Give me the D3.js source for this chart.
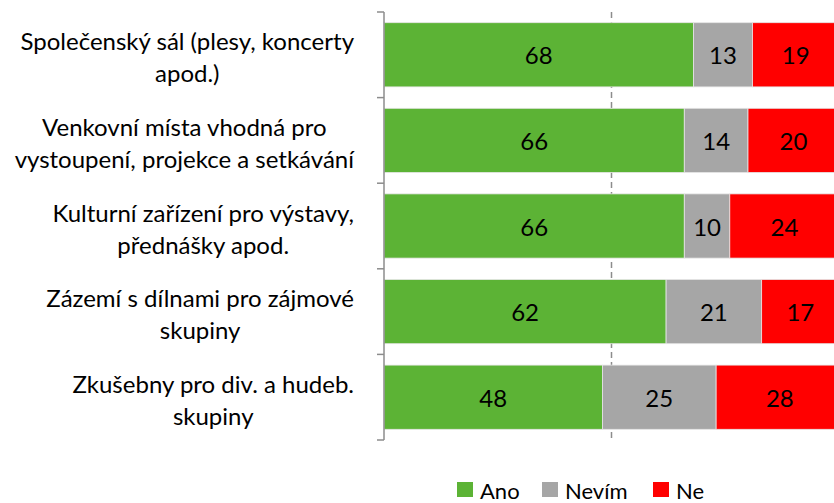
<!DOCTYPE html>
<html>
<head>
<meta charset="utf-8">
<script src="https://cdn.jsdelivr.net/npm/d3@7"></script>
<style>
  body { margin: 0; background: #fff; }
  svg text { font-family: Lato, "Open Sans", sans-serif; fill: #000; }
</style>
</head>
<body>
<div id="chart"></div>
<script>
const categoryLines = [
  ['Společenský sál (plesy, koncerty', 'apod.)'],
  ['Venkovní místa vhodná pro', 'vystoupení, projekce a setkávání'],
  ['Kulturní zařízení pro výstavy,', 'přednášky apod.'],
  ['Zázemí s dílnami pro zájmové', 'skupiny'],
  ['Zkušebny pro div. a hudeb.', 'skupiny'],
];
const categories = categoryLines.map((l) => l.join(' '));
const seriesNames = ['Ano', 'Nevím', 'Ne'];
const anoValues = [68, 66, 66, 62, 48];
const nevimValues = [13, 14, 10, 21, 25];
const neValues = [19, 20, 24, 17, 28];
const colors = ['#5cb335', '#a6a6a6', '#ff0000'];

function draw() {
  const width = 834;
  const height = 503;
  const svg = d3
    .select('#chart')
    .append('svg')
    .attr('width', width)
    .attr('height', height);

  const rows = categories.map((c, i) => ({
    category: c,
    Ano: anoValues[i],
    Nevím: nevimValues[i],
    Ne: neValues[i],
  }));

  const stacked = d3.stack().keys(seriesNames)(rows);

  const xScale = d3.scaleLinear().domain([0, 100]).range([384, 839]);
  const yScale = d3
    .scaleBand()
    .domain(categories)
    .range([12, 440])
    .paddingInner(0.25)
    .paddingOuter(0.125);
  const colorScale = d3.scaleOrdinal().domain(seriesNames).range(colors);

  // dashed 50% gridline, behind the bars
  svg
    .append('line')
    .attr('x1', xScale(50))
    .attr('x2', xScale(50))
    .attr('y1', 12)
    .attr('y2', 440)
    .attr('stroke', '#8c8c8c')
    .attr('stroke-width', 1.5)
    .attr('stroke-dasharray', '6,4');

  const groups = svg
    .selectAll('g.series')
    .data(stacked)
    .join('g')
    .attr('class', 'series')
    .attr('fill', (d) => colorScale(d.key));

  groups
    .selectAll('rect')
    .data((d) => d)
    .join('rect')
    .attr('x', (d) => xScale(d[0]))
    .attr('width', (d) => xScale(d[1]) - xScale(d[0]))
    .attr('y', (d) => yScale(d.data.category))
    .attr('height', yScale.bandwidth())
    .attr('stroke', '#e6e6e6')
    .attr('stroke-width', 0.8);

  groups
    .selectAll('text')
    .data((d) => d.map((v) => ({ v, key: d.key })))
    .join('text')
    .attr('x', (d) => (xScale(d.v[0]) + xScale(d.v[1])) / 2)
    .attr('y', (d) => yScale(d.v.data.category) + yScale.bandwidth() / 2)
    .attr('text-anchor', 'middle')
    .attr('dominant-baseline', 'central')
    .style('font-size', '24px')
    .text((d) => d.v.data[d.key]);

  // left axis with ticks between categories
  const axis = svg.append('g').attr('class', 'y axis');
  axis
    .append('line')
    .attr('x1', 384)
    .attr('x2', 384)
    .attr('y1', 12)
    .attr('y2', 440)
    .attr('stroke', '#8c8c8c')
    .attr('stroke-width', 1.5);
  const step = yScale.step();
  const tickYs = d3.range(categories.length + 1).map((i) => 12 + i * step);
  axis
    .selectAll('line.tick')
    .data(tickYs)
    .join('line')
    .attr('class', 'tick')
    .attr('x1', 377)
    .attr('x2', 384)
    .attr('y1', (d) => d)
    .attr('y2', (d) => d)
    .attr('stroke', '#8c8c8c')
    .attr('stroke-width', 1.5);

  // category labels: block right-aligned, lines centred in block
  const labelRight = 354;
  categoryLines.forEach((lines, i) => {
    const cy = yScale(categories[i]) + yScale.bandwidth() / 2 + 2;
    const g = svg.append('g').attr('class', 'label');
    const texts = lines.map((line, j) =>
      g
        .append('text')
        .attr('y', cy + (j - (lines.length - 1) / 2) * 32)
        .attr('dominant-baseline', 'central')
        .attr('text-anchor', 'middle')
        .style('font-size', '24px')
        .text(line)
    );
    const blockWidth = d3.max(texts, (t) => t.node().getComputedTextLength());
    texts.forEach((t) => t.attr('x', labelRight - blockWidth / 2));
  });

  // legend
  const legendX = [457, 542, 653];
  const legend = svg
    .selectAll('g.legend')
    .data(seriesNames)
    .join('g')
    .attr('class', 'legend')
    .attr('transform', (d, i) => `translate(${legendX[i]},482)`);
  legend
    .append('rect')
    .attr('width', 16)
    .attr('height', 15)
    .attr('fill', (d) => colorScale(d));
  legend
    .append('text')
    .attr('x', 23)
    .attr('y', 8)
    .attr('dominant-baseline', 'central')
    .style('font-size', '22px')
    .text((d) => d);
}

draw();
</script>
</body>
</html>
